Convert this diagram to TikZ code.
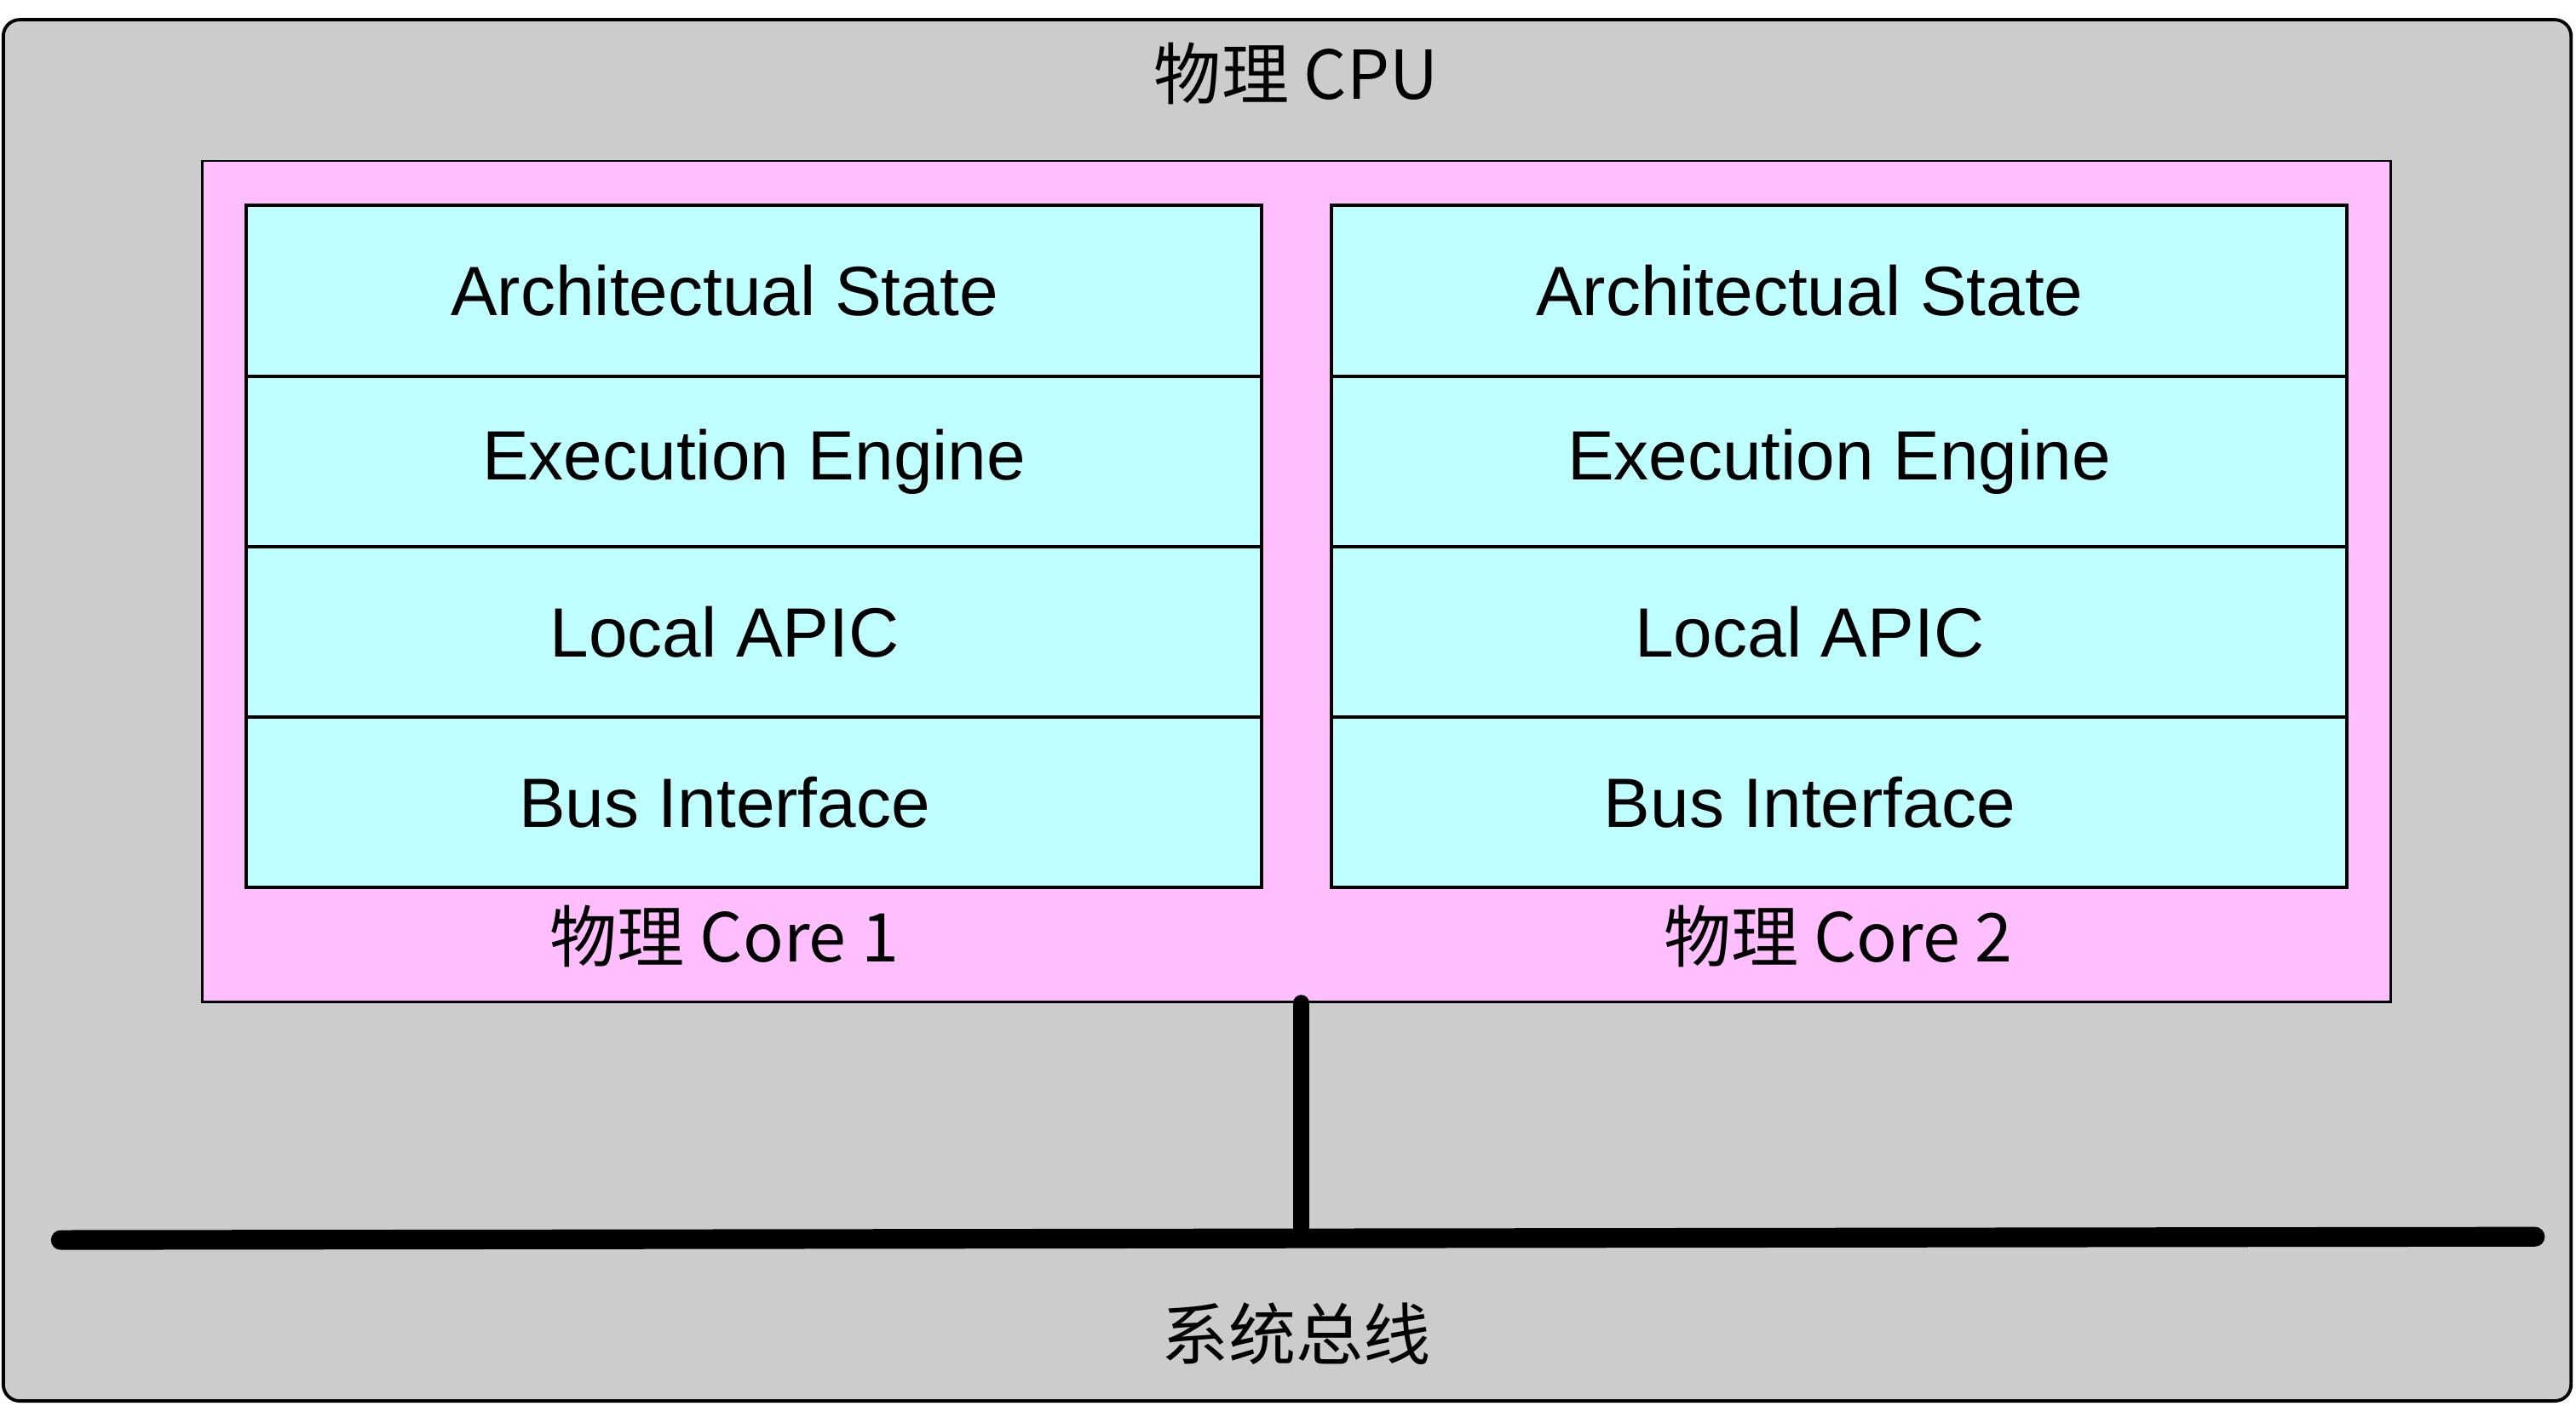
\documentclass[tikz,border=0pt]{standalone}
\usepackage{fontspec}
\setmainfont{Liberation Sans}
\newfontfamily\cjk{Noto Sans CJK SC}
\definecolor{outerg}{HTML}{CCCCCC}
\definecolor{pinkf}{HTML}{FFBFFF}
\definecolor{cyanf}{HTML}{C0FFFF}
\begin{document}
\begin{tikzpicture}[x=1pt,y=-1pt,
  cell/.style={draw=black,line width=2pt,fill=cyanf,minimum width=618pt,minimum height=104pt,inner sep=0pt},
  ctext/.style={font=\fontsize{42.5}{50}\selectfont,inner sep=0pt},
  lbl/.style={font=\fontsize{41}{48}\selectfont\cjk}]
\useasboundingbox (0,0) rectangle (1568,856);
\node[draw=black,line width=2pt,fill=outerg,rounded corners=10pt,minimum width=1563pt,minimum height=841pt,inner sep=0pt] (cpu) at (783.5,432.5) {};
\node[lbl] (title) at (789,45) {物理 CPU};
\node[draw=black,line width=1.5pt,fill=pinkf,minimum width=1332pt,minimum height=512pt,inner sep=0pt] (pkg) at (789,354) {};
\foreach \cx/\n in {459/1,1119.5/2}{
  \node[cell] (a\n) at (\cx,177) {};
  \node[cell] (e\n) at (\cx,281) {};
  \node[cell] (l\n) at (\cx,385) {};
  \node[cell] (b\n) at (\cx,488.5) {};
  \node[ctext] (ta\n) at ([xshift=-18pt]a\n.center) {Architectual State};
  \node[ctext] (te\n) at (e\n.center) {Execution Engine};
  \node[ctext] (tl\n) at ([xshift=-18pt]l\n.center) {Local APIC};
  \node[ctext] (tb\n) at ([xshift=-18pt]b\n.center) {Bus Interface};
}
\node[lbl] (c1) at (441,570) {物理 Core 1};
\node[lbl] (c2) at (1119,570) {物理 Core 2};
\coordinate (bl) at (37,755);
\coordinate (br) at (1543,753);
\coordinate (bj) at (792,754);
\draw[line width=12pt,line cap=round] (bl) -- (br);
\draw[line width=10pt,line cap=round] (pkg.south -| bj) -- (bj);
\node[lbl] (bus) at (789,812) {系统总线};
\node[font=\fontsize{9}{10}\selectfont\cjk,text=white!60!gray,anchor=east] (wm) at (1562,845) {@稀土掘金技术社区};
\end{tikzpicture}
\end{document}
